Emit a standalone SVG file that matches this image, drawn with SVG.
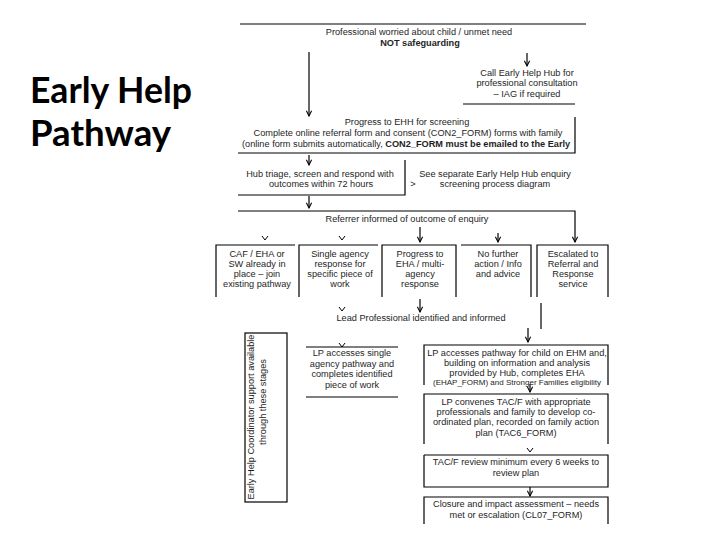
<svg xmlns="http://www.w3.org/2000/svg" width="720" height="540" viewBox="0 0 720 540">
<defs>
<style>
.t{font-family:"Liberation Sans",Arial,sans-serif;font-size:9.2px;fill:#1e1e1e;text-anchor:middle}
.s{font-size:8px}
.b{font-weight:bold}
.ln{stroke:#000;stroke-width:1.2;fill:none}
.ttl{font-family:Lato,"Open Sans",sans-serif;font-weight:bold;font-size:37px;fill:#000}
</style>
<marker id="ah" viewBox="0 0 8 8" refX="7" refY="4" markerWidth="7" markerHeight="7" markerUnits="userSpaceOnUse" orient="auto">
<path d="M1,1 L7,4 L1,7" fill="none" stroke="#000" stroke-width="1.2"/>
</marker>
<path id="chev" d="M-3,-2 L0,2 L3,-2" fill="none" stroke="#000" stroke-width="1"/>
<clipPath id="clipP"><rect x="230" y="110" width="344" height="45"/></clipPath>
</defs>
<rect width="720" height="540" fill="#fff"/>
<g id="title">
<text class="ttl" x="30" y="103" textLength="162" lengthAdjust="spacingAndGlyphs">Early Help</text>
<text class="ttl" x="30" y="146" textLength="141" lengthAdjust="spacingAndGlyphs">Pathway</text>
</g>
<g id="connectors">
<line class="ln" x1="309" y1="52" x2="309" y2="116" marker-end="url(#ah)"/>
<line class="ln" x1="527" y1="53" x2="527" y2="66" marker-end="url(#ah)"/>
<line class="ln" x1="309" y1="155" x2="309" y2="165" marker-end="url(#ah)"/>
<line class="ln" x1="309" y1="196" x2="309" y2="208" marker-end="url(#ah)"/>
<polyline class="ln" points="238,211 575,211 575,242" marker-end="url(#ah)"/>
<line class="ln" x1="420" y1="227" x2="420" y2="242" marker-end="url(#ah)"/>
<line class="ln" x1="498" y1="233" x2="498" y2="242" marker-end="url(#ah)"/>
<use href="#chev" x="265" y="238"/>
<use href="#chev" x="342" y="238"/>
<use href="#chev" x="342" y="309"/>
<line class="ln" x1="420" y1="299" x2="420" y2="312" marker-end="url(#ah)"/>
<line class="ln" x1="541" y1="303" x2="541" y2="329"/>
<line class="ln" x1="528" y1="328" x2="528" y2="342" marker-end="url(#ah)"/>
<use href="#chev" x="342" y="345"/>
<line class="ln" x1="530" y1="384" x2="530" y2="392" marker-end="url(#ah)"/>
<use href="#chev" x="530" y="450"/>
<line class="ln" x1="530" y1="487" x2="530" y2="496" marker-end="url(#ah)"/>
</g>
<g id="n-start">
<line class="ln" x1="240" y1="24" x2="586" y2="24"/>
<text class="t" x="419" y="35">Professional worried about child / unmet need</text>
<text class="t b" x="420" y="46">NOT safeguarding</text>
</g>
<g id="n-call">
<text class="t" x="527" y="76">Call Early Help Hub for</text>
<text class="t" x="527" y="86">professional consultation</text>
<text class="t" x="527" y="97">– IAG if required</text>
<line class="ln" x1="463" y1="104" x2="575" y2="104"/>
</g>
<g id="n-progress">
<polyline class="ln" points="575,117 575,153 238,153"/>
<text class="t" x="407" y="125">Progress to EHH for screening</text>
<text class="t" x="408" y="136">Complete online referral form and consent (CON2_FORM) forms with family</text>
<g clip-path="url(#clipP)"><text class="t" x="242" y="147" style="text-anchor:start">(online form submits automatically, <tspan class="b">CON2_FORM must be emailed to the Early</tspan></text></g>
</g>
<g id="n-hub">
<polyline class="ln" points="405,160 405,195 238,195"/>
<text class="t" x="320" y="177">Hub triage, screen and respond with</text>
<text class="t" x="321" y="187">outcomes within 72 hours</text>
</g>
<g id="n-see">
<text class="t" x="413" y="187">&gt;</text>
<text class="t" x="495" y="177">See separate Early Help Hub enquiry</text>
<text class="t" x="495" y="187">screening process diagram</text>
</g>
<g id="n-referrer">
<text class="t" x="407" y="222">Referrer informed of outcome of enquiry</text>
</g>
<g id="n-caf">
<polyline class="ln" points="216,297 216,245 295,245"/>
<text class="t" x="257" y="257">CAF / EHA or</text>
<text class="t" x="257" y="267">SW already in</text>
<text class="t" x="257" y="277">place – join</text>
<text class="t" x="257" y="287">existing pathway</text>
</g>
<g id="n-single">
<polyline class="ln" points="299,297 299,245 378,245"/>
<text class="t" x="340" y="257">Single agency</text>
<text class="t" x="340" y="267">response for</text>
<text class="t" x="340" y="277">specific piece of</text>
<text class="t" x="340" y="287">work</text>
</g>
<g id="n-eha">
<polyline class="ln" points="382,297 382,245 456,245 456,297"/>
<text class="t" x="420" y="257">Progress to</text>
<text class="t" x="420" y="267">EHA / multi-</text>
<text class="t" x="420" y="277">agency</text>
<text class="t" x="420" y="287">response</text>
</g>
<g id="n-nfa">
<polyline class="ln" points="461,245 531,245 531,297"/>
<text class="t" x="498" y="257">No further</text>
<text class="t" x="498" y="267">action / Info</text>
<text class="t" x="498" y="277">and advice</text>
</g>
<g id="n-escalated">
<polyline class="ln" points="537,297 537,245 608,245 608,297"/>
<text class="t" x="573" y="257">Escalated to</text>
<text class="t" x="573" y="267">Referral and</text>
<text class="t" x="573" y="277">Response</text>
<text class="t" x="573" y="287">service</text>
</g>
<g id="n-lead">
<text class="t" x="421" y="321">Lead Professional identified and informed</text>
</g>
<g id="n-coordinator">
<rect class="ln" x="245" y="333" width="42" height="169"/>
<text class="t" transform="translate(254,417) rotate(-90)">Early Help Coordinator support available</text>
<text class="t" transform="translate(266,402) rotate(-90)">through these stages</text>
</g>
<g id="n-lp-single">
<line class="ln" x1="306" y1="347" x2="398" y2="347"/>
<line class="ln" x1="306" y1="397" x2="398" y2="397"/>
<text class="t" x="352" y="356">LP accesses single</text>
<text class="t" x="352" y="367">agency pathway and</text>
<text class="t" x="352" y="377">completes identified</text>
<text class="t" x="352" y="388">piece of work</text>
</g>
<g id="n-lp-pathway">
<polyline class="ln" points="424,385 424,345 608,345 608,385"/>
<text class="t" x="517" y="356">LP accesses pathway for child on EHM and,</text>
<text class="t" x="517" y="366">building on information and analysis</text>
<text class="t" x="517" y="376">provided by Hub,  completes EHA</text>
<text class="t s" x="517" y="385">(EHAP_FORM) and Stronger Families eligibility</text>
</g>
<g id="n-tac">
<polyline class="ln" points="424,444 424,394 608,394 608,444"/>
<text class="t" x="516" y="405">LP convenes TAC/F with appropriate</text>
<text class="t" x="516" y="415">professionals and family to develop co-</text>
<text class="t" x="516" y="425">ordinated plan, recorded on family action</text>
<text class="t" x="516" y="436">plan (TAC6_FORM)</text>
</g>
<g id="n-review">
<polyline class="ln" points="424,455 608,455 608,487 424,487 424,455"/>
<text class="t" x="516" y="465">TAC/F review minimum every 6 weeks to</text>
<text class="t" x="516" y="476">review plan</text>
</g>
<g id="n-closure">
<polyline class="ln" points="424,524 424,497 608,497 608,524"/>
<text class="t" x="516" y="507">Closure and impact assessment – needs</text>
<text class="t" x="516" y="518">met or escalation (CL07_FORM)</text>
</g>
</svg>
